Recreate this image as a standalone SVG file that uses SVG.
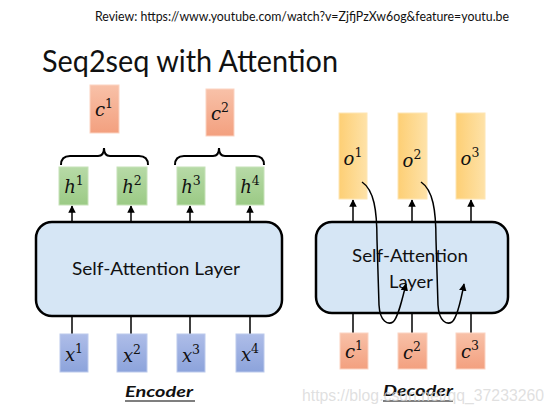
<svg xmlns="http://www.w3.org/2000/svg" width="554" height="415" viewBox="0 0 554 415">
<defs>
<linearGradient id="gc" x1="0" y1="0" x2="0" y2="1"><stop offset="0" stop-color="#f8c1a8"/><stop offset="1" stop-color="#f3a07f"/></linearGradient>
<linearGradient id="gh" x1="0" y1="0" x2="0" y2="1"><stop offset="0" stop-color="#b7daa7"/><stop offset="1" stop-color="#9bca85"/></linearGradient>
<linearGradient id="gx" x1="0" y1="0" x2="0" y2="1"><stop offset="0" stop-color="#aebde8"/><stop offset="1" stop-color="#8ca3db"/></linearGradient>
<linearGradient id="go" x1="0" y1="0" x2="1" y2="0"><stop offset="0" stop-color="#fdcf75"/><stop offset="1" stop-color="#fee2a8"/></linearGradient>
<marker id="ah" viewBox="0 0 10 10" refX="9" refY="5" markerWidth="5" markerHeight="5" orient="auto"><path d="M0,0 L10,5 L0,10 z" fill="#000"/></marker>
<style>
.c{fill:url(#gc);stroke:#fbd3c2;stroke-width:1}
.h{fill:url(#gh);stroke:#c6e2b8;stroke-width:1}
.x{fill:url(#gx);stroke:#bccaec;stroke-width:1}
.o{fill:url(#go);stroke:#fee6b4;stroke-width:1}
.layer{fill:#d6e6f5;stroke:#000;stroke-width:2.5}
.m{font-family:"DejaVu Serif","Liberation Serif",serif;font-style:italic;font-size:18px;fill:#111;text-anchor:middle}
.sup{font-style:normal;font-size:12.5px}
.t{font-family:Lato,"Liberation Sans",sans-serif;fill:#111}
.ln{stroke:#000;stroke-width:1.5;fill:none}
.br{stroke:#000;stroke-width:2;fill:none}
</style>
</defs>
<rect width="554" height="415" fill="#fff"/>
<text class="t" x="95" y="21" font-size="12.5" textLength="414" lengthAdjust="spacingAndGlyphs">Review: https://www.youtube.com/watch?v=ZjfjPzXw6og&amp;feature=youtu.be</text>
<text class="t" x="42" y="72" font-size="30" textLength="296" lengthAdjust="spacingAndGlyphs">Seq2seq with Attention</text>

<g id="connectors">
<line class="ln" x1="72" y1="222" x2="72" y2="206" marker-end="url(#ah)"/>
<line class="ln" x1="131" y1="222" x2="131" y2="206" marker-end="url(#ah)"/>
<line class="ln" x1="190" y1="222" x2="190" y2="206" marker-end="url(#ah)"/>
<line class="ln" x1="250" y1="222" x2="250" y2="206" marker-end="url(#ah)"/>
<line class="ln" x1="72" y1="316" x2="72" y2="334"/>
<line class="ln" x1="131" y1="316" x2="131" y2="334"/>
<line class="ln" x1="190" y1="316" x2="190" y2="334"/>
<line class="ln" x1="250" y1="316" x2="250" y2="334"/>
<line class="ln" x1="353" y1="222" x2="353" y2="200" marker-end="url(#ah)"/>
<line class="ln" x1="412" y1="222" x2="412" y2="200" marker-end="url(#ah)"/>
<line class="ln" x1="471" y1="222" x2="471" y2="200" marker-end="url(#ah)"/>
<line class="ln" x1="353" y1="313" x2="353" y2="333"/>
<line class="ln" x1="412" y1="313" x2="412" y2="333"/>
<line class="ln" x1="471" y1="313" x2="471" y2="333"/>
<path class="br" d="M61,165 Q61,156 70,156 L98,156 Q104,156 104,148 Q104,156 110,156 L139,156 Q148,156 148,165"/>
<path class="br" d="M175,165 Q175,156 184,156 L213,156 Q219,156 219,148 Q219,156 225,156 L255,156 Q264,156 264,165"/>
</g>

<g id="c1"><rect class="c" x="90" y="85" width="29" height="48"/><text class="m" x="104" y="116">c<tspan class="sup" dy="-8">1</tspan></text></g>
<g id="c2"><rect class="c" x="206" y="89" width="28" height="47"/><text class="m" x="220" y="120">c<tspan class="sup" dy="-8">2</tspan></text></g>

<g id="h1"><rect class="h" x="59" y="167" width="29" height="38"/><text class="m" x="74" y="193">h<tspan class="sup" dy="-8">1</tspan></text></g>
<g id="h2"><rect class="h" x="117" y="167" width="30" height="38"/><text class="m" x="132" y="193">h<tspan class="sup" dy="-8">2</tspan></text></g>
<g id="h3"><rect class="h" x="177" y="167" width="28" height="38"/><text class="m" x="191" y="193">h<tspan class="sup" dy="-8">3</tspan></text></g>
<g id="h4"><rect class="h" x="236" y="167" width="28" height="38"/><text class="m" x="250" y="193">h<tspan class="sup" dy="-8">4</tspan></text></g>

<g id="enc-layer"><rect class="layer" x="36" y="222" width="246" height="94" rx="16"/><text class="t" x="72" y="275" font-size="17" textLength="168" lengthAdjust="spacingAndGlyphs">Self-Attention Layer</text></g>

<g id="x1"><rect class="x" x="60" y="334" width="28" height="38"/><text class="m" x="74" y="361">x<tspan class="sup" dy="-8">1</tspan></text></g>
<g id="x2"><rect class="x" x="117" y="334" width="30" height="38"/><text class="m" x="132" y="362">x<tspan class="sup" dy="-8">2</tspan></text></g>
<g id="x3"><rect class="x" x="177" y="334" width="28" height="38"/><text class="m" x="191" y="362">x<tspan class="sup" dy="-8">3</tspan></text></g>
<g id="x4"><rect class="x" x="236" y="334" width="28" height="38"/><text class="m" x="250" y="361">x<tspan class="sup" dy="-8">4</tspan></text></g>

<g id="encoder-label"><text class="t" x="125" y="397" font-size="16" font-weight="bold" font-style="italic" textLength="68" lengthAdjust="spacingAndGlyphs">Encoder</text><line x1="125" y1="401" x2="195" y2="401" stroke="#000" stroke-width="1.2"/></g>

<g id="o1"><rect class="o" x="339" y="113" width="28" height="86"/><text class="m" x="353" y="165">o<tspan class="sup" dy="-8">1</tspan></text></g>
<g id="o2"><rect class="o" x="398" y="113" width="29" height="86"/><text class="m" x="412" y="167">o<tspan class="sup" dy="-8">2</tspan></text></g>
<g id="o3"><rect class="o" x="456" y="113" width="29" height="86"/><text class="m" x="470" y="165">o<tspan class="sup" dy="-8">3</tspan></text></g>

<g id="dec-layer"><rect class="layer" x="316" y="222" width="192" height="91" rx="16"/><text class="t" x="352" y="262" font-size="17" textLength="116" lengthAdjust="spacingAndGlyphs">Self-Attention</text><text class="t" x="389" y="288" font-size="17" textLength="44" lengthAdjust="spacingAndGlyphs">Layer</text></g>

<g id="dc1"><rect class="c" x="340" y="333" width="28" height="36"/><text class="m" x="354" y="358">c<tspan class="sup" dy="-8">1</tspan></text></g>
<g id="dc2"><rect class="c" x="398" y="333" width="29" height="36"/><text class="m" x="412" y="359">c<tspan class="sup" dy="-8">2</tspan></text></g>
<g id="dc3"><rect class="c" x="456" y="333" width="29" height="36"/><text class="m" x="470" y="358">c<tspan class="sup" dy="-8">3</tspan></text></g>

<g id="attn-curves">
<path class="ln" d="M362,182 C374,190 377,210 377,240 L379,305 C380,322 388,325 393,322 C398,318 402,300 406,284" marker-end="url(#ah)"/>
<path class="ln" d="M421,182 C433,190 436,210 436,240 L438,305 C439,322 447,325 452,322 C457,318 461,300 464,284" marker-end="url(#ah)"/>
</g>

<g id="decoder-label"><text class="t" x="383" y="396" font-size="16" font-weight="bold" font-style="italic" textLength="70" lengthAdjust="spacingAndGlyphs">Decoder</text><line x1="383" y1="401" x2="453" y2="401" stroke="#000" stroke-width="1.2"/></g>

<text x="302" y="401" font-family="Liberation Sans,Arial,sans-serif" font-size="17" fill="#d8d8d8" fill-opacity="0.8" textLength="242" lengthAdjust="spacingAndGlyphs">https://blog.csdn.net/qq_37233260</text>
</svg>
